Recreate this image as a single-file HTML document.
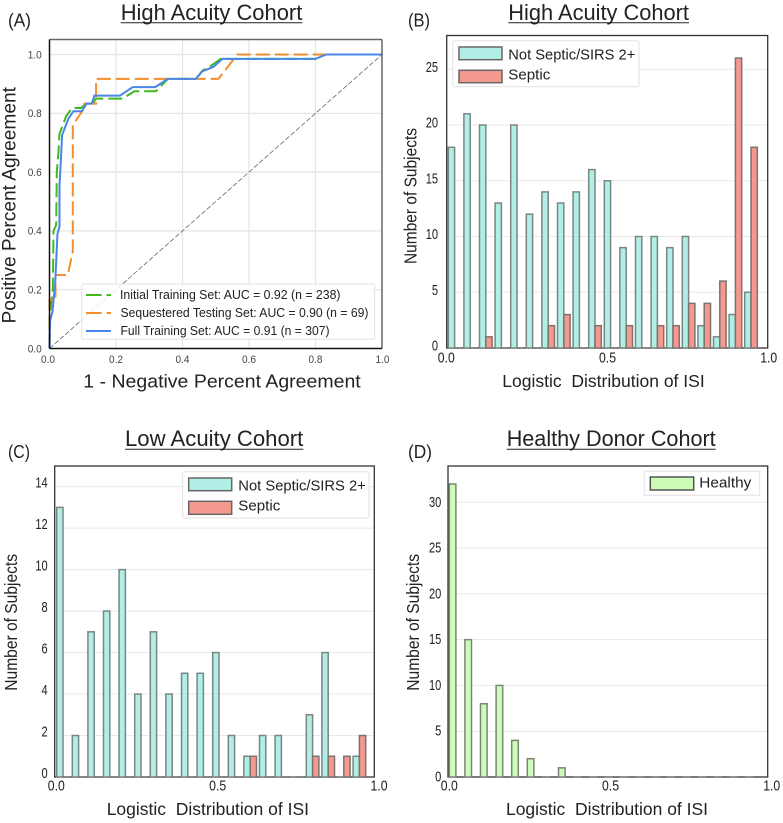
<!DOCTYPE html>
<html lang="en">
<head>
<meta charset="utf-8">
<title>Cohort ROC and ISI distributions</title>
<style>
html,body{margin:0;padding:0;background:#fff;}
svg{display:block;font-family:"Liberation Sans",sans-serif;}
text{fill:#222;}
</style>
</head>
<body>
<svg id="fig" width="783" height="823" viewBox="0 0 783 823" xmlns="http://www.w3.org/2000/svg">
  <rect x="0" y="0" width="783" height="823" fill="#fff"/>

  <text x="8" y="26.5" font-size="18" textLength="23" lengthAdjust="spacingAndGlyphs">(A)</text>
  <text x="408" y="26.5" font-size="18" textLength="22" lengthAdjust="spacingAndGlyphs">(B)</text>
  <text x="8" y="458" font-size="18" textLength="22" lengthAdjust="spacingAndGlyphs">(C)</text>
  <text x="408" y="458" font-size="18" textLength="24" lengthAdjust="spacingAndGlyphs">(D)</text>

  <text x="120.7" y="20" font-size="22" textLength="181.6" lengthAdjust="spacingAndGlyphs">High Acuity Cohort</text>
  <line x1="120.7" x2="302.3" y1="22.7" y2="22.7" stroke="#222" stroke-width="1"/>
  <text x="508.3" y="20" font-size="22" textLength="180.7" lengthAdjust="spacingAndGlyphs">High Acuity Cohort</text>
  <line x1="508.3" x2="689" y1="22.7" y2="22.7" stroke="#222" stroke-width="1"/>
  <text x="125" y="446" font-size="22" textLength="178.3" lengthAdjust="spacingAndGlyphs">Low Acuity Cohort</text>
  <line x1="125" x2="303.3" y1="449.3" y2="449.3" stroke="#222" stroke-width="1"/>
  <text x="506.7" y="446" font-size="22" textLength="209" lengthAdjust="spacingAndGlyphs">Healthy Donor Cohort</text>
  <line x1="506.7" x2="715.7" y1="449.3" y2="449.3" stroke="#222" stroke-width="1"/>

  <text x="83.3" y="387.5" font-size="18" textLength="277.4" lengthAdjust="spacingAndGlyphs">1 - Negative Percent Agreement</text>
  <text transform="translate(15.5,323.5) rotate(-90)" font-size="19.5" textLength="236.5" lengthAdjust="spacingAndGlyphs">Positive Percent Agreement</text>
  <text x="502.3" y="387" font-size="17.5" textLength="202.4" lengthAdjust="spacingAndGlyphs" xml:space="preserve">Logistic  Distribution of ISI</text>
  <text transform="translate(416.5,264) rotate(-90)" font-size="17.5" textLength="136" lengthAdjust="spacingAndGlyphs">Number of Subjects</text>
  <text x="106.7" y="815" font-size="17.5" textLength="202.3" lengthAdjust="spacingAndGlyphs" xml:space="preserve">Logistic  Distribution of ISI</text>
  <text transform="translate(17,690.7) rotate(-90)" font-size="17.5" textLength="136.7" lengthAdjust="spacingAndGlyphs">Number of Subjects</text>
  <text x="506" y="815" font-size="17.5" textLength="202" lengthAdjust="spacingAndGlyphs" xml:space="preserve">Logistic  Distribution of ISI</text>
  <text transform="translate(419,690.7) rotate(-90)" font-size="17.5" textLength="136.7" lengthAdjust="spacingAndGlyphs">Number of Subjects</text>

  <g id="panel-a"></g>
  <g id="panel-b"></g>
  <g id="panel-c"></g>
  <g id="panel-d"></g>

  <g>
    <rect x="81.7" y="284" width="293" height="55.3" rx="2" fill="#fff" fill-opacity="0.85" stroke="#e2e2e2" stroke-width="1"/>
    <line x1="86" x2="111" y1="295" y2="295" stroke="#3fbb1e" stroke-width="2" stroke-dasharray="15.6 5 4.4"/>
    <line x1="86" x2="111" y1="313" y2="313" stroke="#f28e2b" stroke-width="2" stroke-dasharray="15.6 5 4.4"/>
    <line x1="86" x2="111" y1="331" y2="331" stroke="#4a86e8" stroke-width="2"/>
    <text x="120" y="299" font-size="12.5" textLength="220.5" lengthAdjust="spacingAndGlyphs">Initial Training Set: AUC = 0.92 (n = 238)</text>
    <text x="120.5" y="317" font-size="12.5" textLength="248" lengthAdjust="spacingAndGlyphs">Sequestered Testing Set: AUC = 0.90 (n = 69)</text>
    <text x="120.5" y="335" font-size="12.5" textLength="209" lengthAdjust="spacingAndGlyphs">Full Training Set: AUC = 0.91 (n = 307)</text>
  </g>

  <g>
    <rect x="452.7" y="40.7" width="186.3" height="46" rx="2" fill="#fff" fill-opacity="0.85" stroke="#e2e2e2" stroke-width="1"/>
    <rect x="459" y="47" width="43" height="12.7" fill="#b1eee6" stroke="#666" stroke-width="1.5"/>
    <rect x="459" y="70.3" width="43" height="12.4" fill="#f5998f" stroke="#666" stroke-width="1.5"/>
    <text x="508.3" y="59.3" font-size="14.5" textLength="127" lengthAdjust="spacingAndGlyphs">Not Septic/SIRS 2+</text>
    <text x="508.3" y="79.3" font-size="14.5" textLength="42" lengthAdjust="spacingAndGlyphs">Septic</text>
  </g>

  <g>
    <rect x="182.7" y="471.7" width="186.3" height="46.3" rx="2" fill="#fff" fill-opacity="0.85" stroke="#e2e2e2" stroke-width="1"/>
    <rect x="188.7" y="478" width="43" height="12.7" fill="#b1eee6" stroke="#666" stroke-width="1.5"/>
    <rect x="188.7" y="501.3" width="43" height="13" fill="#f5998f" stroke="#666" stroke-width="1.5"/>
    <text x="238.3" y="490.7" font-size="14.5" textLength="127.5" lengthAdjust="spacingAndGlyphs">Not Septic/SIRS 2+</text>
    <text x="238.3" y="510.7" font-size="14.5" textLength="42" lengthAdjust="spacingAndGlyphs">Septic</text>
  </g>

  <g>
    <rect x="644.3" y="471.3" width="115.4" height="24" fill="#fff" fill-opacity="0.85" stroke="#e2e2e2" stroke-width="1"/>
    <rect x="650.3" y="477" width="43.4" height="13" fill="#cdfcb9" stroke="#555" stroke-width="1.5"/>
    <text x="699.3" y="487.7" font-size="14.5" textLength="52" lengthAdjust="spacingAndGlyphs">Healthy</text>
  </g>
</svg>

<script>
// ROC data (false positive fraction, true positive fraction)
const rocInitialX = [0, 0.002, 0.010, 0.012, 0.020, 0.022, 0.027, 0.030, 0.050, 0.068, 0.095, 0.110, 0.130, 0.140, 0.220, 0.255, 0.320, 0.356, 0.440, 0.460, 0.490, 0.515, 0.800, 0.832, 1];
const rocInitialY = [0, 0.120, 0.200, 0.400, 0.420, 0.600, 0.670, 0.730, 0.790, 0.818, 0.818, 0.833, 0.833, 0.850, 0.850, 0.875, 0.875, 0.917, 0.917, 0.945, 0.965, 0.985, 0.985, 1, 1];
const rocSequesteredX = [0, 0, 0.018, 0.018, 0.055, 0.070, 0.070, 0.100, 0.105, 0.140, 0.140, 0.508, 0.565, 1];
const rocSequesteredY = [0, 0.165, 0.165, 0.250, 0.250, 0.330, 0.760, 0.810, 0.833, 0.833, 0.917, 0.917, 1, 1];
const rocFullX = [0, 0.002, 0.009, 0.017, 0.024, 0.030, 0.030, 0.038, 0.057, 0.072, 0.097, 0.112, 0.127, 0.135, 0.212, 0.250, 0.318, 0.356, 0.440, 0.460, 0.493, 0.520, 0.800, 0.832, 1];
const rocFullY = [0, 0.096, 0.125, 0.220, 0.390, 0.414, 0.550, 0.726, 0.782, 0.807, 0.807, 0.833, 0.833, 0.860, 0.860, 0.889, 0.889, 0.917, 0.917, 0.943, 0.958, 0.985, 0.985, 1, 1];
const rocTicks = [0, 0.2, 0.4, 0.6, 0.8, 1];
const rocTickLabels = ["0.0", "0.2", "0.4", "0.6", "0.8", "1.0"];

// Histogram data: 20 bins
const binStarts = [0, 0.05, 0.1, 0.15, 0.2, 0.25, 0.3, 0.35, 0.4, 0.45, 0.5, 0.55, 0.6, 0.65, 0.7, 0.75, 0.8, 0.85, 0.9, 0.95];
const highNotSeptic = [18, 21, 20, 13, 20, 12, 14, 13, 14, 16, 15, 9, 10, 10, 9, 10, 2, 1, 3, 5];
const highSeptic = [0, 0, 1, 0, 0, 0, 2, 3, 0, 2, 0, 2, 0, 2, 2, 4, 4, 6, 26, 18];
const lowNotSeptic = [13, 2, 7, 8, 10, 4, 7, 4, 5, 5, 6, 2, 1, 2, 2, 0, 3, 6, 0, 1];
const lowSeptic = [0, 0, 0, 0, 0, 0, 0, 0, 0, 0, 0, 0, 1, 0, 0, 0, 1, 1, 1, 2];
const healthyCounts = [32, 15, 8, 10, 4, 2, 0, 1, 0, 0, 0, 0, 0, 0, 0, 0, 0, 0, 0, 0];
const histXTicks = [0, 0.5, 1];
const histXTickLabels = ["0.0", "0.5", "1.0"];
const highYTicks = [0, 5, 10, 15, 20, 25];
const lowYTicks = [0, 2, 4, 6, 8, 10, 12, 14];
const healthyYTicks = [0, 5, 10, 15, 20, 25, 30];

const NS = 'http://www.w3.org/2000/svg';

function add(parent, tag, attrs, name) {
  const el = document.createElementNS(NS, tag);
  for (const k in attrs) el.setAttribute(k, attrs[k]);
  
  
  parent.appendChild(el);
  return el;
}

function addText(parent, x, y, str, size, anchor, width, name, fill) {
  const el = add(parent, 'text', {
    x: x, y: y, 'font-size': size, 'text-anchor': anchor,
    textLength: width, lengthAdjust: 'spacingAndGlyphs', style: 'fill:' + (fill || '#222')
  }, name);
  el.textContent = str;
  return el;
}

/* ---------- Panel A: ROC ---------- */
(function () {
  const g = document.getElementById('panel-a');
  const left = 49.5, right = 382, top = 39.5, bottom = 348.5;
  const xS = v => left + v * (right - left);
  const yS = v => bottom - v * 294;

  rocTicks.forEach((t, i) => {
    if (t > 0) {
      add(g, 'line', {x1: xS(t), x2: xS(t), y1: top, y2: bottom, stroke: '#e4e4e4', 'stroke-width': 1.2}, 'x-gridline');
      add(g, 'line', {x1: left, x2: right, y1: yS(t), y2: yS(t), stroke: '#e4e4e4', 'stroke-width': 1.2}, 'y-gridline');
    }
    const xc = i === 0 ? xS(t) - 1.5 : (i === 5 ? xS(t) + 0.5 : xS(t));
    addText(g, xc, 363, rocTickLabels[i], 11, 'middle', 14, 'x-tick-label', '#444');
    addText(g, 41.7, yS(t) + 3.8, rocTickLabels[i], 11, 'end', 14, 'y-tick-label', '#444');
  });

  add(g, 'line', {x1: xS(0), y1: yS(0), x2: xS(1), y2: yS(1), stroke: '#666', 'stroke-width': 0.8, 'stroke-dasharray': '5 2'}, 'chance-diagonal');

  const pts = (xs, ys) => xs.map((x, i) => xS(x).toFixed(2) + ',' + yS(ys[i]).toFixed(2)).join(' ');
  add(g, 'polyline', {points: pts(rocInitialX, rocInitialY), fill: 'none', stroke: '#3fbb1e', 'stroke-width': 2, 'stroke-dasharray': '14 5'}, 'roc-line-initial');
  add(g, 'polyline', {points: pts(rocSequesteredX, rocSequesteredY), fill: 'none', stroke: '#f28e2b', 'stroke-width': 2, 'stroke-dasharray': '14 5'}, 'roc-line-sequestered');
  add(g, 'polyline', {points: pts(rocFullX, rocFullY), fill: 'none', stroke: '#4a86e8', 'stroke-width': 2}, 'roc-line-full');

  add(g, 'line', {x1: left, x2: right, y1: top, y2: top, stroke: '#666', 'stroke-width': 1.5}, 'plot-frame-top');
  add(g, 'line', {x1: right, x2: right, y1: top, y2: bottom, stroke: '#666', 'stroke-width': 1.5}, 'plot-frame-right');
  add(g, 'line', {x1: left, x2: left, y1: top, y2: bottom, stroke: '#111', 'stroke-width': 1.5}, 'plot-frame-left');
  add(g, 'line', {x1: left, x2: right, y1: bottom, y2: bottom, stroke: '#111', 'stroke-width': 1.5}, 'plot-frame-bottom');
})();

/* ---------- Panels B, C, D: histograms ---------- */
function histogram(opt) {
  const g = document.getElementById(opt.id);
  const xBar = v => opt.barStart + v * 312;
  const xTick = v => opt.tick0 + v * opt.tickSpan;
  const yS = v => opt.bottom - v * opt.unit;
  const barW = opt.barW;

  opt.yTicks.forEach(t => {
    if (t > 0) {
      add(g, 'line', {x1: opt.left, x2: opt.right, y1: yS(t), y2: yS(t), stroke: '#e8e8e8', 'stroke-width': 1}, 'y-gridline');
    }
    const s = String(t);
    addText(g, opt.yLabelX, yS(t) + opt.yLabelDy, s, 15, 'end', s.length * 6.15, 'y-tick-label');
  });

  histXTicks.forEach((t, i) => {
    addText(g, xTick(t), opt.xLabelY, histXTickLabels[i], 15, 'middle', 17, 'x-tick-label');
  });

  add(g, 'rect', {x: opt.left, y: opt.top, width: opt.right - opt.left, height: opt.bottom - opt.top, fill: 'none', stroke: '#333', 'stroke-width': 1.3}, 'plot-frame');

  opt.series.forEach((s, k) => {
    s.values.forEach((v, i) => {
      add(g, 'rect', {
        x: xBar(binStarts[i]) + k * barW,
        y: yS(v),
        width: barW,
        height: Math.max(v * opt.unit, 0.01),
        fill: s.fill,
        stroke: s.stroke,
        'stroke-width': 1.5
      }, s.name);
    });
  });
}

histogram({
  id: 'panel-b', left: 446.7, right: 767.7, top: 35.5, bottom: 348, unit: 11.15,
  barStart: 448.3, barW: 6.3, tick0: 446.3, tickSpan: 322.4,
  yTicks: highYTicks, yLabelX: 438, yLabelDy: 2.5, xLabelY: 362.7,
  series: [
    {values: highNotSeptic, fill: '#b1eee6', stroke: '#7a8684', name: 'bar-not-septic'},
    {values: highSeptic, fill: '#f5998f', stroke: '#7a7370', name: 'bar-septic'}
  ]
});

histogram({
  id: 'panel-c', left: 54.7, right: 374.3, top: 466, bottom: 777, unit: 20.74,
  barStart: 56.7, barW: 6.3, tick0: 56.3, tickSpan: 322.7,
  yTicks: lowYTicks, yLabelX: 47.7, yLabelDy: 1, xLabelY: 790.7,
  series: [
    {values: lowNotSeptic, fill: '#b1eee6', stroke: '#7a8684', name: 'bar-not-septic'},
    {values: lowSeptic, fill: '#f5998f', stroke: '#7a7370', name: 'bar-septic'}
  ]
});

histogram({
  id: 'panel-d', left: 448, right: 767.7, top: 466, bottom: 777, unit: 9.157,
  barStart: 449.3, barW: 6.6, tick0: 449.3, tickSpan: 322.4,
  yTicks: healthyYTicks, yLabelX: 441.3, yLabelDy: 4.5, xLabelY: 790.7,
  series: [
    {values: healthyCounts, fill: '#cdfcb9', stroke: '#7b8578', name: 'bar-healthy'}
  ]
});
</script>
</body>
</html>
